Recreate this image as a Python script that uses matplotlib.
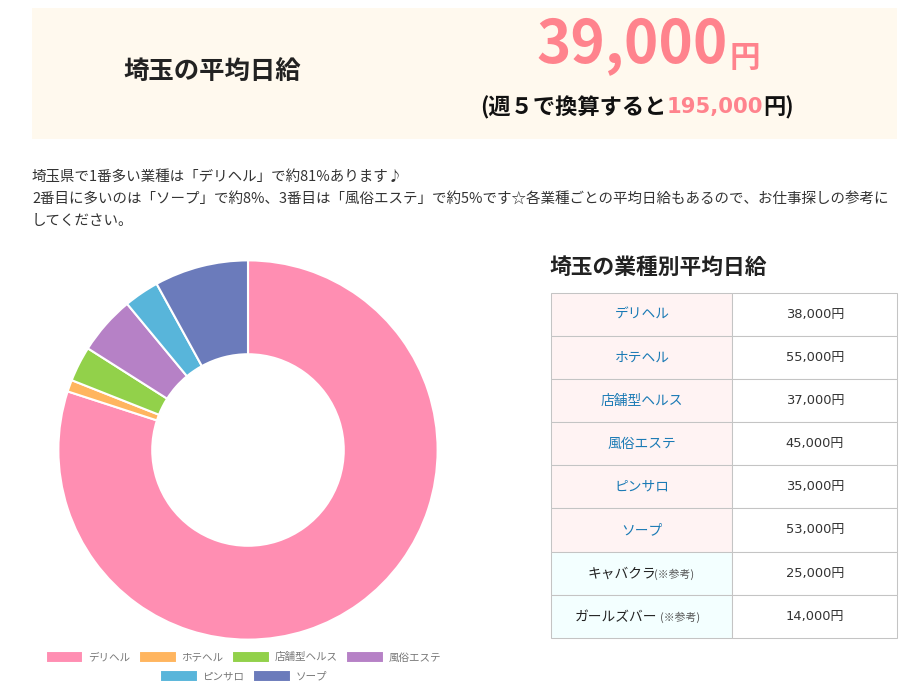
import matplotlib.pyplot as plt
from matplotlib.patches import Rectangle

plt.rcParams['font.family'] = ['Noto Sans CJK JP', 'DejaVu Sans']

W, H = 914, 697

categories = ['デリヘル', 'ホテヘル', '店舗型ヘルス', '風俗エステ', 'ピンサロ', 'ソープ']
shares = [80, 1, 3, 5, 3, 8]
colors = ['#ff8eb2', '#ffb55f', '#92d14a', '#b681c6', '#58b5da', '#6b7bbb']

table_names = ['デリヘル', 'ホテヘル', '店舗型ヘルス', '風俗エステ', 'ピンサロ', 'ソープ', 'キャバクラ', 'ガールズバー']
table_notes = ['', '', '', '', '', '', '(※参考)', '(※参考)']
table_pay = ['38,000円', '55,000円', '37,000円', '45,000円', '35,000円', '53,000円', '25,000円', '14,000円']

body_lines = [
    '埼玉県で1番多い業種は「デリヘル」で約81%あります♪',
    '2番目に多いのは「ソープ」で約8%、3番目は「風俗エステ」で約5%です☆各業種ごとの平均日給もあるので、お仕事探しの参考に',
    'してください。',
]

fig = plt.figure(figsize=(W / 100, H / 100), dpi=100)

# overlay in pixel coords, y going down
bg = fig.add_axes([0, 0, 1, 1])
bg.set_xlim(0, W)
bg.set_ylim(H, 0)
bg.axis('off')

# header box
bg.add_patch(Rectangle((32, 8), 865, 131, fc='#fff9ee', ec='none'))
bg.text(212.5, 72, '埼玉の平均日給', fontsize=18.3, fontweight='bold', color='#222222', ha='center', va='center')
bg.text(728, 46, '39,000', fontsize=42, fontweight='bold', color='#ff838d', ha='right', va='center')
bg.text(745, 58, '円', fontsize=22, fontweight='bold', color='#ff838d', ha='center', va='center')
bg.text(666, 108, '(週５で換算すると', fontsize=16, fontweight='bold', color='#111111', ha='right', va='center')
bg.text(667, 107, '195,000', fontsize=15.2, fontweight='bold', color='#ff838d', ha='left', va='center',
        family='DejaVu Sans')
bg.text(763, 108, '円)', fontsize=16, fontweight='bold', color='#111111', ha='left', va='center')

for y, line in zip([176.5, 198.5, 220.5], body_lines):
    bg.text(32, y, line, fontsize=10.45, color='#333333', ha='left', va='center')

# table
bg.text(549.5, 267, '埼玉の業種別平均日給', fontsize=15.65, fontweight='bold', color='#222222', ha='left', va='center')
row_edges = [293, 336, 379, 422, 465, 508, 552, 595, 638]
for i, name in enumerate(table_names):
    top, bottom = row_edges[i], row_edges[i + 1]
    mid = (top + bottom) / 2
    note = table_notes[i]
    bg.add_patch(Rectangle((551, top), 181, bottom - top, fc='#f3ffff' if note else '#fff3f3', ec='#c4c4c4', lw=0.75))
    bg.add_patch(Rectangle((732, top), 165, bottom - top, fc='white', ec='#c4c4c4', lw=0.75))
    if note:
        name_x = 622 if i == 6 else 616.5
        note_x = 674 if i == 6 else 680
        bg.text(name_x, mid + 0.5, name, fontsize=9.9, color='#222222', ha='center', va='center')
        bg.text(note_x, mid + 1, note, fontsize=7.8, color='#555555', ha='center', va='center')
    else:
        bg.text(642, mid + 0.5, name, fontsize=9.9, color='#1a7ab5', ha='center', va='center')
    bg.text(815, mid, table_pay[i], fontsize=9.4, color='#333333', ha='center', va='center',
            family=['DejaVu Sans', 'Noto Sans CJK JP'])

# donut, centre (248, 450), radius 190
ax = fig.add_axes([58 / W, 1 - 640 / H, 380 / W, 380 / H])
wedges, _ = ax.pie(shares, colors=colors, startangle=90, counterclock=False, radius=1,
                   wedgeprops={'width': 0.495, 'edgecolor': 'white', 'linewidth': 1.5})
ax.set_xlim(-1.002, 1.002)
ax.set_ylim(-1.002, 1.002)

# two centred legend rows
legend_style = dict(frameon=False, handlelength=3.55, handleheight=1.45, handletextpad=0.45, columnspacing=0.85,
                    labelcolor='#777777', prop={'size': 7.6}, borderpad=0, borderaxespad=0, loc='center')
row1 = fig.legend(wedges[:4], categories[:4], ncol=4, bbox_to_anchor=(243.5 / W, 1 - 657 / H), **legend_style)
row2 = fig.legend(wedges[4:], categories[4:], ncol=2, bbox_to_anchor=(243.5 / W, 1 - 676 / H), **legend_style)

fig.savefig('out.png', dpi=100)
